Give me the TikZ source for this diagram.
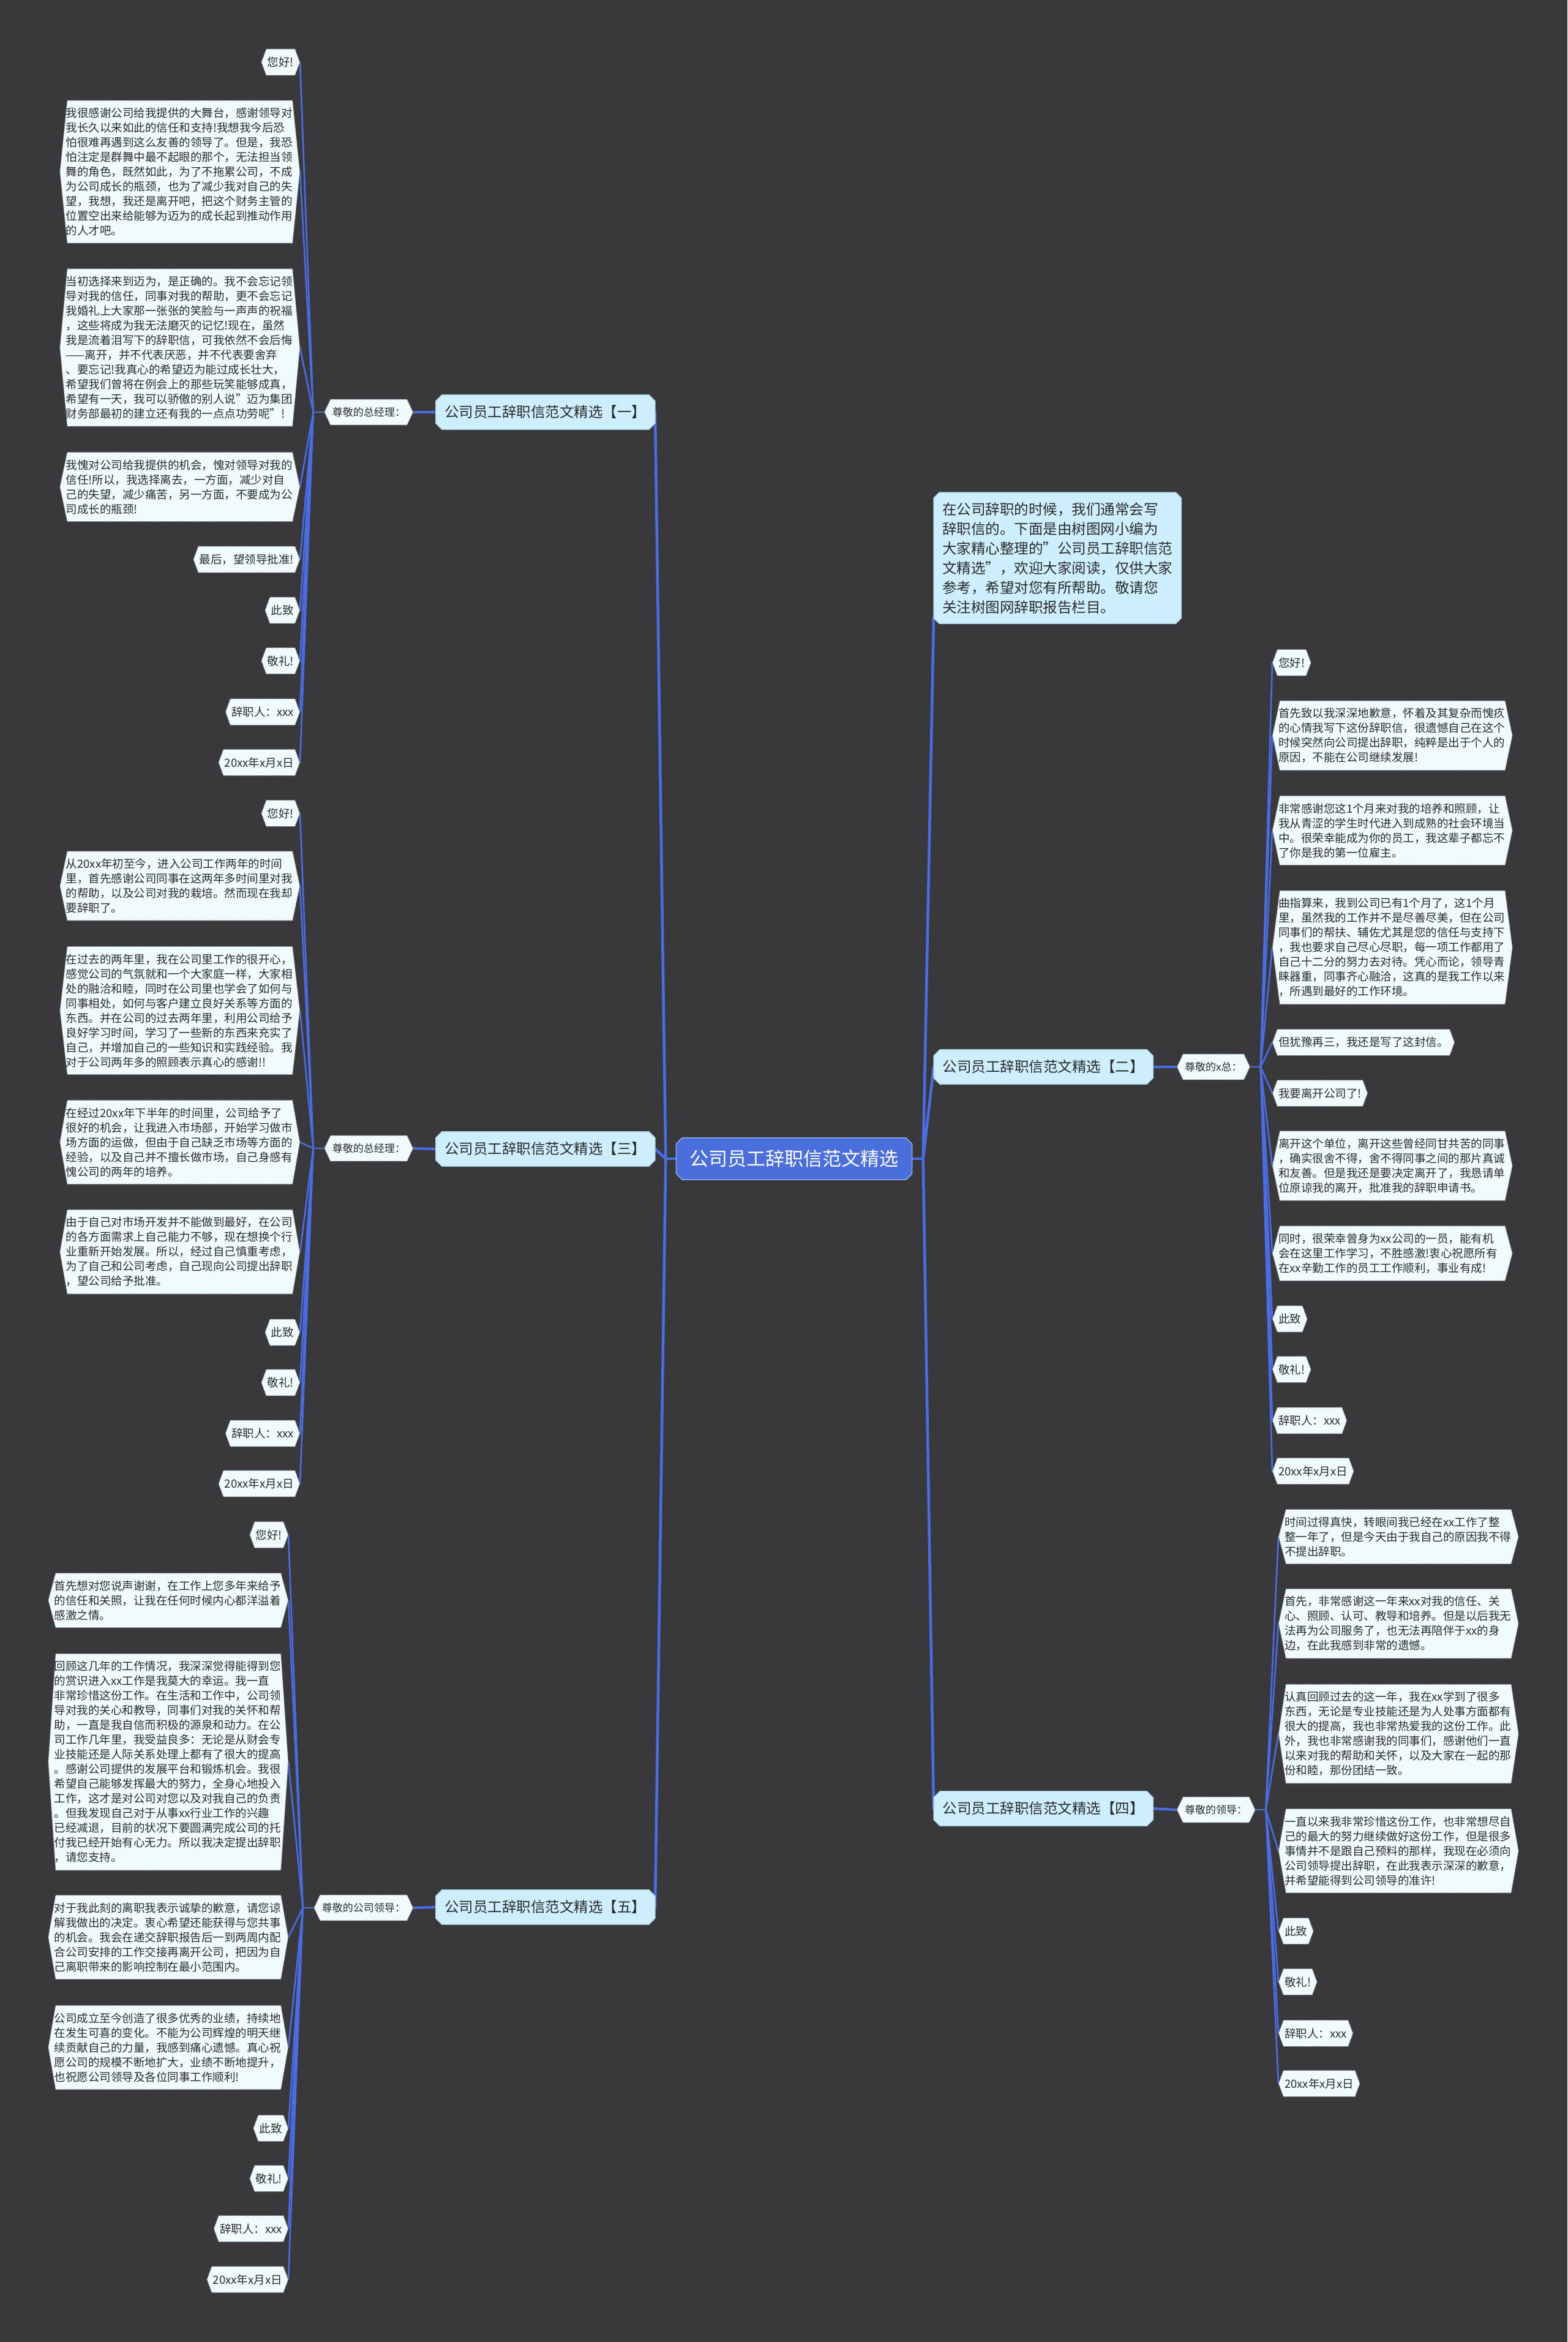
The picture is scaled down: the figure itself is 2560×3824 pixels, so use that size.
\documentclass[tikz,border=0pt]{standalone}
\usepackage{fontspec}
\setmainfont{Noto Sans CJK SC}
\usetikzlibrary{calc}
\definecolor{bgc}{HTML}{39383A}
\definecolor{linec}{HTML}{4A6DE5}
\definecolor{leaffill}{HTML}{F0FBFD}
\definecolor{leafborder}{HTML}{4A4A4A}
\definecolor{brfill}{HTML}{CDEFFD}
\definecolor{brborder}{HTML}{A9CFE2}
\definecolor{rootfill}{HTML}{4A6FDC}
\definecolor{rootborder}{HTML}{8EA8F0}
\definecolor{txt}{HTML}{2B2B2B}
\pgfdeclarelayer{bglayer}
\pgfdeclarelayer{edgelayer}
\pgfdeclarelayer{shapelayer}
\pgfsetlayers{bglayer,edgelayer,shapelayer,main}
\tikzset{
  hexshape/.style={fill=leaffill, draw=leafborder, densely dotted, line width=1.2pt},
  brshape/.style={fill=brfill, draw=brborder, line width=1.2pt},
  rootshape/.style={fill=rootfill, draw=rootborder, line width=1.5pt},
  leafnode/.style={font=\fontsize{18.5}{24}\selectfont, text=txt, inner xsep=10pt, inner ysep=0pt, minimum height=43pt},
  paranode/.style={font=\fontsize{18.5}{24}\selectfont, text=txt, text width=372pt, align=left, inner xsep=10pt, inner ysep=12pt},
  ltwonode/.style={font=\fontsize{17}{20}\selectfont, text=txt, inner xsep=13pt, inner ysep=0pt, minimum height=42pt},
  branchnode/.style={font=\fontsize{23.5}{28}\selectfont, text=txt, minimum width=358pt, minimum height=56pt, inner sep=0pt},
  rootnode/.style={font=\fontsize{31}{36}\selectfont, text=white, minimum width=385pt, minimum height=68pt, inner sep=0pt},
  intronode/.style={font=\fontsize{23.5}{32}\selectfont, text=txt, align=left, inner xsep=14pt, inner ysep=16pt},
  mainedge/.style={draw=linec, line width=4.5pt, line join=round, line cap=round},
  midedge/.style={draw=linec, line width=4pt},
  leafedge/.style={draw=linec, line width=2.6pt, line join=round, line cap=round}
}
\newcommand\myhex[2]{\begin{pgfonlayer}{shapelayer}\path[hexshape] ([xshift=#2]#1.north west) -- ([xshift=-#2]#1.north east) -- (#1.east) -- ([xshift=-#2]#1.south east) -- ([xshift=#2]#1.south west) -- (#1.west) -- cycle;\end{pgfonlayer}}
\newcommand\myoct[3]{\begin{pgfonlayer}{shapelayer}\path[#3] ([xshift=#2]#1.north west) -- ([xshift=-#2]#1.north east) -- ([yshift=-#2]#1.north east) -- ([yshift=#2]#1.south east) -- ([xshift=-#2]#1.south east) -- ([xshift=#2]#1.south west) -- ([yshift=#2]#1.south west) -- ([yshift=-#2]#1.north west) -- cycle;\end{pgfonlayer}}
\newcommand\mkpara[4]{\node[paranode,anchor=#1] (#2) at (#3) {#4};\myhex{#2}{12pt}}
\newcommand\mkleaf[4]{\node[leafnode,anchor=#1] (#2) at (#3) {#4};\myhex{#2}{8pt}}
\newcommand\mkltwo[4]{\node[ltwonode,anchor=#1] (#2) at (#3) {#4};\myhex{#2}{10pt}}
\begin{document}
\begin{tikzpicture}[x=1pt,y=-1pt]
\useasboundingbox (0,0) rectangle (2560,3824);
\begin{pgfonlayer}{bglayer}
\fill[bgc] (0,0) rectangle (2560,3824);
\end{pgfonlayer}

% root
\node[rootnode] (root) at (1297,1892) {公司员工辞职信范文精选};
\myoct{root}{10pt}{rootshape}

% branches
\node[branchnode,anchor=east] (B1) at (1070,673) {公司员工辞职信范文精选【一】};
\node[branchnode,anchor=east] (B3) at (1070,1876) {公司员工辞职信范文精选【三】};
\node[branchnode,anchor=east] (B5) at (1070,3114) {公司员工辞职信范文精选【五】};
\node[branchnode,anchor=west] (B2) at (1525,1742) {公司员工辞职信范文精选【二】};
\node[branchnode,anchor=west] (B4) at (1525,2953) {公司员工辞职信范文精选【四】};
\foreach \b in {B1,B2,B3,B4,B5} {\myoct{\b}{10pt}{brshape}}

% intro
\node[intronode,anchor=north west] (intro) at (1525,804) {在公司辞职的时候，我们通常会写\\辞职信的。下面是由树图网小编为\\大家精心整理的"公司员工辞职信范\\文精选"，欢迎大家阅读，仅供大家\\参考，希望对您有所帮助。敬请您\\关注树图网辞职报告栏目。};
\myoct{intro}{9pt}{brshape}

% level 2
\mkltwo{east}{L1}{675,673}{尊敬的总经理：}
\mkltwo{east}{L3}{675,1875}{尊敬的总经理：}
\mkltwo{east}{L5}{675,3115}{尊敬的公司领导：}
\mkltwo{west}{L2}{1922,1742}{尊敬的x总：}
\mkltwo{west}{L4}{1922,2955}{尊敬的领导：}

% branch 1 leaves
\mkleaf{east}{a1}{490,101.5}{您好!}
\mkpara{east}{a2}{490,280.5}{我很感谢公司给我提供的大舞台，感谢领导对\\我长久以来如此的信任和支持!我想我今后恐\\怕很难再遇到这么友善的领导了。但是，我恐\\怕注定是群舞中最不起眼的那个，无法担当领\\舞的角色，既然如此，为了不拖累公司，不成\\为公司成长的瓶颈，也为了减少我对自己的失\\望，我想，我还是离开吧，把这个财务主管的\\位置空出来给能够为迈为的成长起到推动作用\\的人才吧。}
\mkpara{east}{a3}{490,567.5}{当初选择来到迈为，是正确的。我不会忘记领\\导对我的信任，同事对我的帮助，更不会忘记\\我婚礼上大家那一张张的笑脸与一声声的祝福\\，这些将成为我无法磨灭的记忆!现在，虽然\\我是流着泪写下的辞职信，可我依然不会后悔\\——离开，并不代表厌恶，并不代表要舍弃\\、要忘记!我真心的希望迈为能过成长壮大，\\希望我们曾将在例会上的那些玩笑能够成真，\\希望有一天，我可以骄傲的别人说"迈为集团\\财务部最初的建立还有我的一点点功劳呢"!}
\mkpara{east}{a4}{490,795}{我愧对公司给我提供的机会，愧对领导对我的\\信任!所以，我选择离去，一方面，减少对自\\己的失望，减少痛苦，另一方面，不要成为公\\司成长的瓶颈!}
\mkleaf{east}{a5}{490,913.5}{最后，望领导批准!}
\mkleaf{east}{a6}{490,996.5}{此致}
\mkleaf{east}{a7}{490,1079}{敬礼!}
\mkleaf{east}{a8}{490,1162.5}{辞职人：xxx}
\mkleaf{east}{a9}{490,1245}{20xx年x月x日}

% branch 3 leaves
\mkleaf{east}{c1}{490,1328}{您好!}
\mkpara{east}{c2}{490,1446.5}{从20xx年初至今，进入公司工作两年的时间\\里，首先感谢公司同事在这两年多时间里对我\\的帮助，以及公司对我的栽培。然而现在我却\\要辞职了。}
\mkpara{east}{c3}{490,1650}{在过去的两年里，我在公司里工作的很开心，\\感觉公司的气氛就和一个大家庭一样，大家相\\处的融洽和睦，同时在公司里也学会了如何与\\同事相处，如何与客户建立良好关系等方面的\\东西。并在公司的过去两年里，利用公司给予\\良好学习时间，学习了一些新的东西来充实了\\自己，并增加自己的一些知识和实践经验。我\\对于公司两年多的照顾表示真心的感谢!!}
\mkpara{east}{c4}{490,1865}{在经过20xx年下半年的时间里，公司给予了\\很好的机会，让我进入市场部，开始学习做市\\场方面的运做，但由于自己缺乏市场等方面的\\经验，以及自己并不擅长做市场，自己身感有\\愧公司的两年的培养。}
\mkpara{east}{c5}{490,2044}{由于自己对市场开发并不能做到最好，在公司\\的各方面需求上自己能力不够，现在想换个行\\业重新开始发展。所以，经过自己慎重考虑，\\为了自己和公司考虑，自己现向公司提出辞职\\，望公司给予批准。}
\mkleaf{east}{c6}{490,2175.5}{此致}
\mkleaf{east}{c7}{490,2257.5}{敬礼!}
\mkleaf{east}{c8}{490,2340.5}{辞职人：xxx}
\mkleaf{east}{c9}{490,2422.5}{20xx年x月x日}

% branch 5 leaves
\mkleaf{east}{e1}{471,2506}{您好!}
\mkpara{east}{e2}{471,2613}{首先想对您说声谢谢，在工作上您多年来给予\\的信任和关照，让我在任何时候内心都洋溢着\\感激之情。}
\mkpara{east}{e3}{471,2877}{回顾这几年的工作情况，我深深觉得能得到您\\的赏识进入xx工作是我莫大的幸运。我一直\\非常珍惜这份工作。在生活和工作中，公司领\\导对我的关心和教导，同事们对我的关怀和帮\\助，一直是我自信而积极的源泉和动力。在公\\司工作几年里，我受益良多：无论是从财会专\\业技能还是人际关系处理上都有了很大的提高\\。感谢公司提供的发展平台和锻炼机会。我很\\希望自己能够发挥最大的努力，全身心地投入\\工作，这才是对公司对您以及对我自己的负责\\。但我发现自己对于从事xx行业工作的兴趣\\已经减退，目前的状况下要圆满完成公司的托\\付我已经开始有心无力。所以我决定提出辞职\\，请您支持。}
\mkpara{east}{e4}{471,3163}{对于我此刻的离职我表示诚挚的歉意，请您谅\\解我做出的决定。衷心希望还能获得与您共事\\的机会。我会在递交辞职报告后一到两周内配\\合公司安排的工作交接再离开公司，把因为自\\己离职带来的影响控制在最小范围内。}
\mkpara{east}{e5}{471,3343}{公司成立至今创造了很多优秀的业绩，持续地\\在发生可喜的变化。不能为公司辉煌的明天继\\续贡献自己的力量，我感到痛心遗憾。真心祝\\愿公司的规模不断地扩大，业绩不断地提升，\\也祝愿公司领导及各位同事工作顺利!}
\mkleaf{east}{e6}{471,3475}{此致}
\mkleaf{east}{e7}{471,3557}{敬礼!}
\mkleaf{east}{e8}{471,3639}{辞职人：xxx}
\mkleaf{east}{e9}{471,3722}{20xx年x月x日}

% branch 2 leaves
\mkleaf{west}{b1}{2078,1082}{您好!}
\mkpara{west}{b2}{2078,1201}{首先致以我深深地歉意，怀着及其复杂而愧疚\\的心情我写下这份辞职信，很遗憾自己在这个\\时候突然向公司提出辞职，纯粹是出于个人的\\原因，不能在公司继续发展!}
\mkpara{west}{b3}{2078,1356}{非常感谢您这1个月来对我的培养和照顾，让\\我从青涩的学生时代进入到成熟的社会环境当\\中。很荣幸能成为你的员工，我这辈子都忘不\\了你是我的第一位雇主。}
\mkpara{west}{b4}{2078,1547}{曲指算来，我到公司已有1个月了，这1个月\\里，虽然我的工作并不是尽善尽美，但在公司\\同事们的帮扶、辅佐尤其是您的信任与支持下\\，我也要求自己尽心尽职，每一项工作都用了\\自己十二分的努力去对待。凭心而论，领导青\\睐器重，同事齐心融洽，这真的是我工作以来\\，所遇到最好的工作环境。}
\mkleaf{west}{b5}{2078,1702}{但犹豫再三，我还是写了这封信。}
\mkleaf{west}{b6}{2078,1785}{我要离开公司了!}
\mkpara{west}{b7}{2078,1903.5}{离开这个单位，离开这些曾经同甘共苦的同事\\，确实很舍不得，舍不得同事之间的那片真诚\\和友善。但是我还是要决定离开了，我恳请单\\位原谅我的离开，批准我的辞职申请书。}
\mkpara{west}{b8}{2078,2046.5}{同时，很荣幸曾身为xx公司的一员，能有机\\会在这里工作学习，不胜感激!衷心祝愿所有\\在xx辛勤工作的员工工作顺利，事业有成!}
\mkleaf{west}{b9}{2078,2153.5}{此致}
\mkleaf{west}{b10}{2078,2236}{敬礼!}
\mkleaf{west}{b11}{2078,2319.5}{辞职人：xxx}
\mkleaf{west}{b12}{2078,2402}{20xx年x月x日}

% branch 4 leaves
\mkpara{west}{d1}{2088,2509}{时间过得真快，转眼间我已经在xx工作了整\\整一年了，但是今天由于我自己的原因我不得\\不提出辞职。}
\mkpara{west}{d2}{2088,2651}{首先，非常感谢这一年来xx对我的信任、关\\心、照顾、认可、教导和培养。但是以后我无\\法再为公司服务了，也无法再陪伴于xx的身\\边，在此我感到非常的遗憾。}
\mkpara{west}{d3}{2088,2831}{认真回顾过去的这一年，我在xx学到了很多\\东西，无论是专业技能还是为人处事方面都有\\很大的提高，我也非常热爱我的这份工作。此\\外，我也非常感谢我的同事们，感谢他们一直\\以来对我的帮助和关怀，以及大家在一起的那\\份和睦，那份团结一致。}
\mkpara{west}{d4}{2088,3022}{一直以来我非常珍惜这份工作，也非常想尽自\\己的最大的努力继续做好这份工作，但是很多\\事情并不是跟自己预料的那样，我现在必须向\\公司领导提出辞职，在此我表示深深的歉意，\\并希望能得到公司领导的准许!}
\mkleaf{west}{d5}{2088,3153}{此致}
\mkleaf{west}{d6}{2088,3236}{敬礼!}
\mkleaf{west}{d7}{2088,3320}{辞职人：xxx}
\mkleaf{west}{d8}{2088,3402}{20xx年x月x日}

% junctions
\coordinate (jL) at ([xshift=-17pt]root.west);
\coordinate (jR) at ([xshift=18pt]root.east);
\coordinate (jA) at ([xshift=-18pt]L1.west);
\coordinate (jC) at ([xshift=-18pt]L3.west);
\coordinate (jE) at ([xshift=-18pt]L5.west);
\coordinate (jB) at ([xshift=17pt]L2.east);
\coordinate (jD) at ([xshift=17pt]L4.east);

% connectors
\begin{pgfonlayer}{edgelayer}
\draw[mainedge] (root.west) -- (jL);
\draw[mainedge] (root.east) -- (jR);
\foreach \b in {B1,B3,B5} {\draw[mainedge] (jL) -- (\b.east);}
\foreach \b in {B2,B4} {\draw[mainedge] (jR) -- (\b.west);}
\draw[mainedge] (jR) -- ([yshift=10pt]intro.south west);
\draw[midedge] (B1.west) -- (L1.east);
\draw[midedge] (B3.west) -- (L3.east);
\draw[midedge] (B5.west) -- (L5.east);
\draw[midedge] (B2.east) -- (L2.west);
\draw[midedge] (B4.east) -- (L4.west);
\draw[leafedge] (L1.west) -- (jA);
\draw[leafedge] (L3.west) -- (jC);
\draw[leafedge] (L5.west) -- (jE);
\draw[leafedge] (L2.east) -- (jB);
\draw[leafedge] (L4.east) -- (jD);
\foreach \n in {a1,a2,a3,a4,a5,a6,a7,a8,a9} {\draw[leafedge] (jA) -- (\n.east);}
\foreach \n in {c1,c2,c3,c4,c5,c6,c7,c8,c9} {\draw[leafedge] (jC) -- (\n.east);}
\foreach \n in {e1,e2,e3,e4,e5,e6,e7,e8,e9} {\draw[leafedge] (jE) -- (\n.east);}
\foreach \n in {b1,b2,b3,b4,b5,b6,b7,b8,b9,b10,b11,b12} {\draw[leafedge] (jB) -- (\n.west);}
\foreach \n in {d1,d2,d3,d4,d5,d6,d7,d8} {\draw[leafedge] (jD) -- (\n.west);}
\end{pgfonlayer}
\end{tikzpicture}
\end{document}
